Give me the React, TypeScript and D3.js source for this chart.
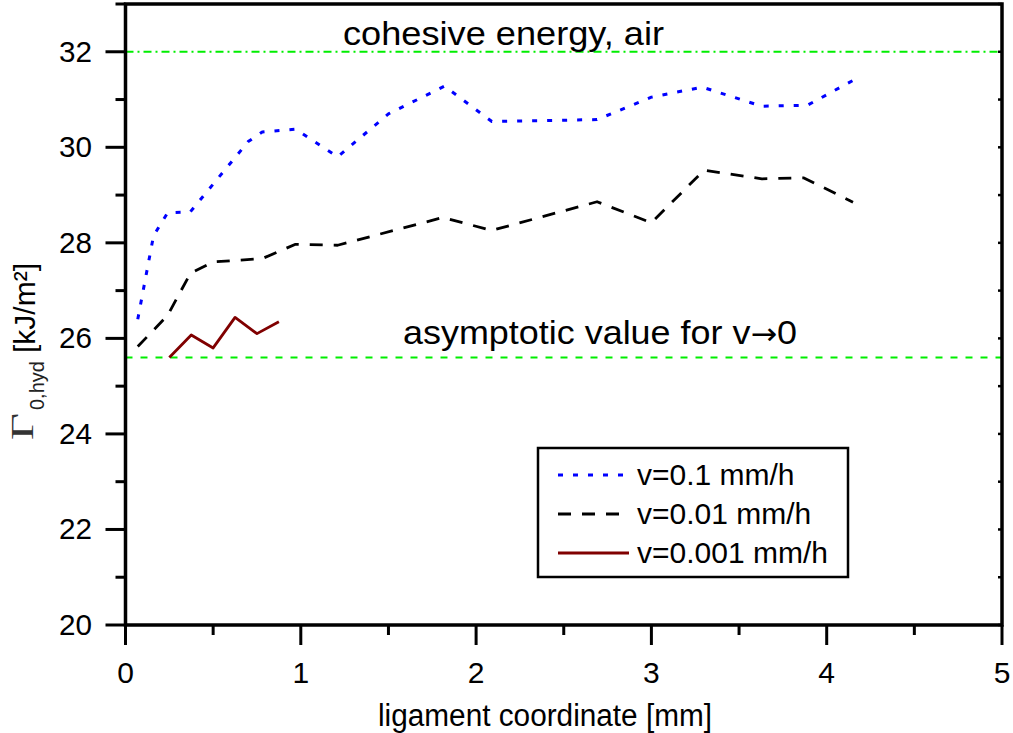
import React, { useEffect, useRef } from "react";
import * as d3 from "d3";

// readings (x: ligament coordinate in mm, y: Gamma in kJ/m²)
const fastX = [0.07, 0.16, 0.24, 0.37, 0.7, 0.78, 0.97, 1.21, 1.5, 1.82, 2.09, 2.69, 3.0, 3.29, 3.63, 3.89, 4.18];
const fastY = [26.4, 28.15, 28.63, 28.65, 30.12, 30.32, 30.38, 29.8, 30.7, 31.28, 30.54, 30.58, 31.05, 31.26, 30.86, 30.88, 31.46];

const midX = [0.07, 0.24, 0.37, 0.5, 0.78, 0.97, 1.21, 1.81, 2.09, 2.69, 3.0, 3.3, 3.63, 3.87, 4.15];
const midY = [25.83, 26.48, 27.36, 27.6, 27.67, 27.97, 27.95, 28.53, 28.26, 28.86, 28.42, 29.52, 29.34, 29.36, 28.85];

const slowX = [0.25, 0.375, 0.5, 0.625, 0.75, 0.875];
const slowY = [25.6, 26.07, 25.8, 26.44, 26.1, 26.35];

const seriesNames = ["v=0.1 mm/h", "v=0.01 mm/h", "v=0.001 mm/h"];
const seriesColors = ["#0000ff", "#000000", "#800000"];
const seriesDash = ["5,10", "13,11", null];

const cohesiveLevel = 32;
const asymptoteLevel = 25.6;

const xTicks = [0, 1, 2, 3, 4, 5];
const yTicks = [20, 22, 24, 26, 28, 30, 32];

const FONT = "'Liberation Sans', Arial, sans-serif";

const App = () => {
    const svgRef = useRef<SVGSVGElement>(null);

    useEffect(() => {
        const width = 1013, height = 733;
        const left = 125.5, right = 1002, top = 4, bottom = 625;

        const svg = d3.select(svgRef.current).attr("width", width).attr("height", height);
        svg.selectAll("*").remove();

        const x = d3.scaleLinear().domain([0, 5]).range([left, right]);
        const y = d3.scaleLinear().domain([20, 33]).range([bottom, top]);

        // reference lines
        svg.append("line")
            .attr("x1", left).attr("x2", right)
            .attr("y1", y(cohesiveLevel)).attr("y2", y(cohesiveLevel))
            .attr("stroke", "#00ee00").attr("stroke-width", 2)
            .attr("stroke-dasharray", "8,4,2,4");
        svg.append("line")
            .attr("x1", left).attr("x2", right)
            .attr("y1", y(asymptoteLevel)).attr("y2", y(asymptoteLevel))
            .attr("stroke", "#00ee00").attr("stroke-width", 1.8)
            .attr("stroke-dasharray", "7,8");

        // data lines
        const line = d3.line<[number, number]>().x(d => x(d[0])).y(d => y(d[1]));
        const series = [
            d3.zip(fastX, fastY),
            d3.zip(midX, midY),
            d3.zip(slowX, slowY),
        ] as [number, number][][];

        series.forEach((pts, i) => {
            const p = svg.append("path")
                .attr("d", line(pts))
                .attr("fill", "none")
                .attr("stroke", seriesColors[i])
                .attr("stroke-width", i === 0 ? 3 : 2.8)
                .attr("stroke-linejoin", "round");
            if (seriesDash[i]) p.attr("stroke-dasharray", seriesDash[i]);
        });

        // frame
        svg.append("rect")
            .attr("x", left).attr("y", top)
            .attr("width", right - left).attr("height", bottom - top)
            .attr("fill", "none").attr("stroke", "black").attr("stroke-width", 3.5);

        // x axis ticks
        const xAxis = svg.append("g");
        d3.range(0, 5.01, 0.5).forEach(v => {
            const major = Math.abs(v - Math.round(v)) < 1e-6;
            xAxis.append("line")
                .attr("x1", x(v)).attr("x2", x(v))
                .attr("y1", bottom).attr("y2", bottom + (major ? 20 : 10))
                .attr("stroke", "black").attr("stroke-width", 3);
        });
        xTicks.forEach(v => {
            xAxis.append("text")
                .attr("x", x(v)).attr("y", 683)
                .attr("text-anchor", "middle")
                .attr("font-family", FONT).attr("font-size", 30)
                .text(v);
        });

        // y axis ticks
        const yAxis = svg.append("g");
        d3.range(20, 33.01, 1).forEach(v => {
            const major = v % 2 === 0;
            yAxis.append("line")
                .attr("x1", left - (major ? 20 : 10)).attr("x2", left)
                .attr("y1", y(v)).attr("y2", y(v))
                .attr("stroke", "black").attr("stroke-width", 3);
            yAxis.append("line")
                .attr("x1", right - 4).attr("x2", right)
                .attr("y1", y(v)).attr("y2", y(v))
                .attr("stroke", "black").attr("stroke-width", 2.5);
        });
        yTicks.forEach(v => {
            yAxis.append("text")
                .attr("x", 92).attr("y", y(v) + 10)
                .attr("text-anchor", "end")
                .attr("font-family", FONT).attr("font-size", 30)
                .attr("textLength", 33).attr("lengthAdjust", "spacingAndGlyphs")
                .text(v);
        });

        // axis titles
        svg.append("text")
            .attr("x", 378).attr("y", 726)
            .attr("font-family", FONT).attr("font-size", 31)
            .attr("textLength", 334).attr("lengthAdjust", "spacingAndGlyphs")
            .text("ligament coordinate [mm]");

        svg.append("text")
            .attr("transform", "translate(33,440) rotate(-90)")
            .attr("font-family", "'Liberation Serif', 'Times New Roman', serif")
            .attr("font-size", 31)
            .attr("textLength", 27).attr("lengthAdjust", "spacingAndGlyphs")
            .attr("fill", "#333")
            .text("\u0393");
        svg.append("text")
            .attr("transform", "translate(44,410) rotate(-90)")
            .attr("font-family", FONT).attr("font-size", 20)
            .attr("fill", "#222")
            .text("0,hyd");
        svg.append("text")
            .attr("transform", "translate(35,353) rotate(-90)")
            .attr("font-family", FONT).attr("font-size", 30)
            .text("[kJ/m\u00b2]");

        // annotations
        svg.append("text")
            .attr("x", 343).attr("y", 45)
            .attr("font-family", FONT).attr("font-size", 34)
            .attr("textLength", 321).attr("lengthAdjust", "spacingAndGlyphs")
            .text("cohesive energy, air");
        const asym = svg.append("text")
            .attr("x", 403).attr("y", 344)
            .attr("font-family", FONT).attr("font-size", 34)
            .attr("textLength", 394).attr("lengthAdjust", "spacingAndGlyphs");
        asym.append("tspan").text("asymptotic value for v");
        asym.append("tspan").attr("font-family", "'DejaVu Sans', sans-serif").attr("font-size", 30).text("\u2192");
        asym.append("tspan").text("0");

        // legend
        const lg = svg.append("g");
        lg.append("rect")
            .attr("x", 538).attr("y", 448).attr("width", 310).attr("height", 129)
            .attr("fill", "white").attr("stroke", "black").attr("stroke-width", 2.5);
        const rowY = [475, 514, 553];
        seriesNames.forEach((name, i) => {
            const s = lg.append("line")
                .attr("x1", 558).attr("x2", i === 2 ? 629 : 623)
                .attr("y1", rowY[i]).attr("y2", rowY[i])
                .attr("stroke", seriesColors[i]).attr("stroke-width", i === 0 ? 3 : 2.8);
            if (seriesDash[i]) s.attr("stroke-dasharray", i === 0 ? "5,10" : "13,11");
            lg.append("text")
                .attr("x", 637).attr("y", rowY[i] + 10)
                .attr("font-family", FONT).attr("font-size", 30)
                .text(name);
        });
    }, []);

    return (
        <svg ref={svgRef} style={{ position: "absolute", left: 0, top: 0, display: "block", background: "white" }}></svg>
    );
};

export default App;
